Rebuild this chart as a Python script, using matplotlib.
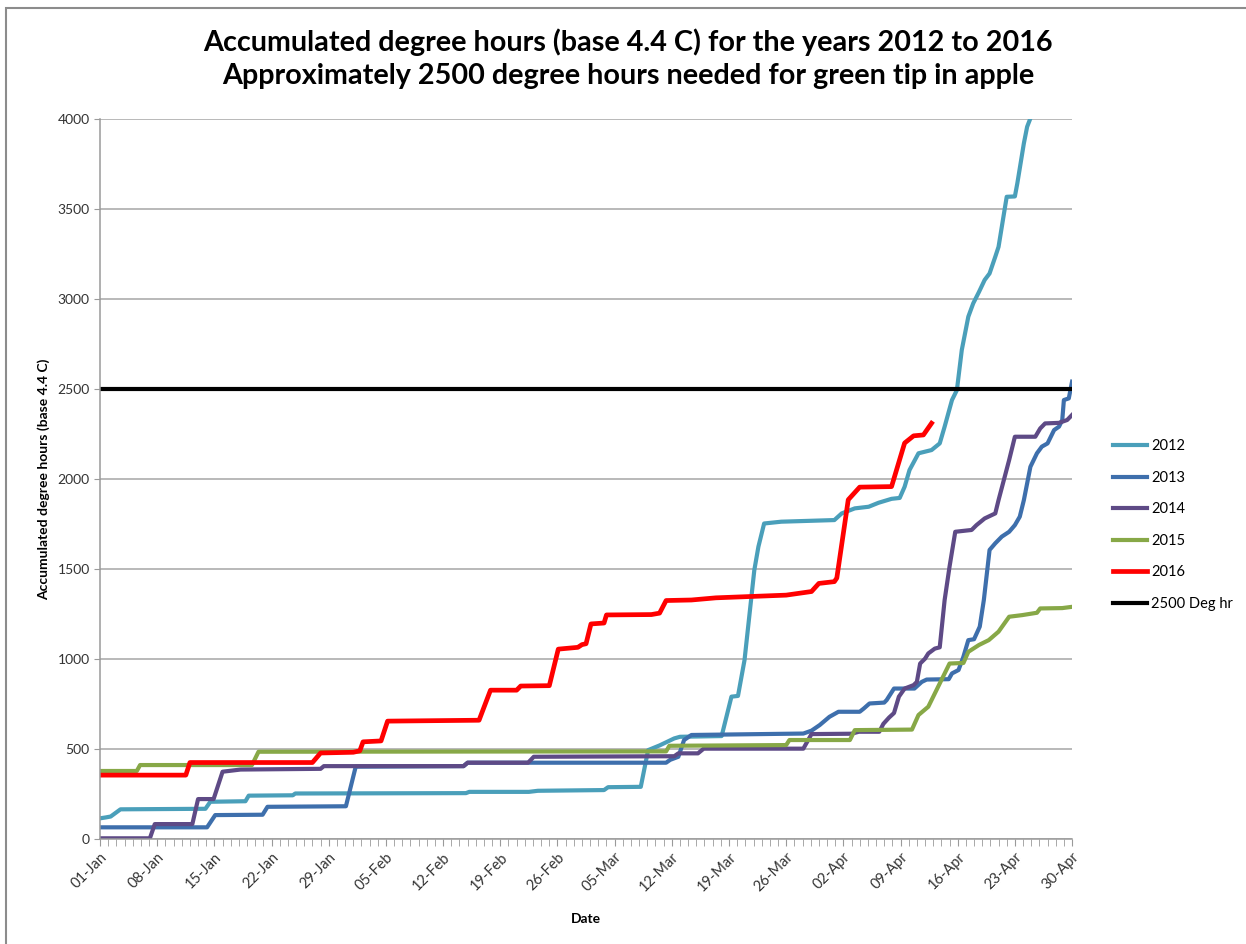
import matplotlib
matplotlib.use("Agg")
import matplotlib.pyplot as plt
from matplotlib.patches import Rectangle

plt.rcParams['font.family'] = ['Lato', 'DejaVu Sans']

# days counted from 01-Jan
days_2012 = [0, 0.7, 1.3, 2.5, 12.9, 13.5, 17.8, 18.2, 23.6, 23.9,
             44.8, 45.2, 52.5, 53.6, 61.7, 62.2, 66.2, 67.1, 68.5, 70.3,
             71, 76.1, 77.3, 78.1, 78.9, 80.1, 80.6, 81.3, 83.4, 89.9,
             90.8, 92.4, 94.1, 95.3, 96.9, 97.9, 98.5, 99.1, 100.2, 101.8,
             102.8, 103.4, 104.3, 104.9, 105.5, 106.3, 106.9, 107.6, 108.3, 108.9,
             109.6, 110, 110.8, 111, 112, 112.3, 113.1, 113.5, 113.9]
vals_2012 = [115, 120, 125, 165, 168, 207, 210, 241, 243, 253,
             255, 262, 262, 268, 272, 288, 290, 494, 520, 559,
             568, 572, 791, 795, 994, 1494, 1624, 1753, 1763, 1772,
             1809, 1837, 1846, 1868, 1890, 1895, 1957, 2050, 2143, 2161,
             2198, 2291, 2439, 2494, 2717, 2902, 2976, 3039, 3106, 3142,
             3235, 3290, 3513, 3568, 3570, 3643, 3865, 3957, 4004]

days_2013 = [0, 13.1, 14.1, 19.9, 20.5, 30.1, 31.3, 44.5, 45, 69.3,
             69.8, 70.8, 71.5, 72.4, 86.1, 87.1, 88.1, 89.3, 90.4, 93,
             93.5, 94.2, 96, 96.3, 97.2, 99.7, 100.6, 101.2, 103.9, 104.3,
             105.1, 105.7, 106.3, 107, 107.7, 108.2, 108.9, 109.6, 110.4, 111.3,
             112, 112.6, 113.1, 113.9, 114.7, 115.3, 116, 116.8, 117.4, 117.8,
             118, 118.6, 119]
vals_2013 = [65, 65, 133, 135, 179, 182, 402, 405, 424, 424,
             440, 457, 550, 578, 586, 602, 633, 679, 707, 707,
             725, 753, 758, 772, 836, 836, 873, 886, 888, 920,
             939, 1013, 1105, 1110, 1180, 1328, 1606, 1643, 1680, 1707,
             1744, 1791, 1883, 2068, 2143, 2180, 2198, 2272, 2291, 2328,
             2439, 2448, 2541]

days_2014 = [0, 6.1, 6.7, 11.3, 12, 13.9, 15, 17.2, 27, 27.4,
             44.5, 45, 52.4, 53.1, 70.3, 70.8, 73.2, 73.9, 86.1, 87.1,
             92, 92.9, 95.4, 95.9, 96.6, 97.2, 97.8, 98.5, 99.6, 100,
             100.4, 101, 101.4, 102.2, 102.8, 103.4, 104, 104.7, 106.7, 107.3,
             108.3, 109.6, 110, 111.3, 112, 114.5, 115.1, 115.7, 117.4, 118.4,
             119]
vals_2014 = [4, 4, 83, 83, 222, 222, 374, 386, 390, 405,
             405, 424, 424, 457, 460, 476, 476, 502, 502, 583,
             585, 596, 596, 640, 675, 700, 791, 836, 855, 873,
             975, 1002, 1031, 1058, 1065, 1328, 1513, 1707, 1717, 1744,
             1781, 1809, 1883, 2106, 2235, 2235, 2281, 2309, 2312, 2328,
             2356]

days_2015 = [0, 4.5, 4.9, 18.6, 19.4, 69.3, 69.7, 84, 84.4, 91.8,
             92.4, 99.4, 100.2, 101.4, 104, 105.7, 106.3, 107.6, 108.8, 110,
             111.3, 112.9, 114.7, 115.1, 117.8, 119]
vals_2015 = [378, 378, 411, 411, 485, 487, 518, 522, 550, 550,
             605, 608, 689, 735, 975, 978, 1040, 1078, 1105, 1152,
             1235, 1244, 1257, 1281, 1283, 1290]

days_2016 = [0, 10.5, 11, 26, 27, 31, 31.8, 32.2, 34.4, 35.2,
             46.4, 47.8, 51, 51.5, 55, 56.1, 58.5, 59, 59.5, 60.1,
             61.7, 62, 67.5, 68.5, 69.3, 72.4, 75.4, 84, 87.1, 88,
             89.9, 90.2, 91.6, 93, 96.9, 98.5, 99.6, 100.8, 101.8]
vals_2016 = [355, 355, 425, 425, 478, 482, 490, 540, 545, 655,
             660, 827, 827, 850, 852, 1055, 1065, 1080, 1085, 1195,
             1200, 1245, 1247, 1255, 1325, 1328, 1340, 1355, 1375, 1420,
             1430, 1450, 1885, 1955, 1958, 2200, 2240, 2245, 2310]

threshold = 2500
last_day = 119

tick_labels = ['01-Jan', '08-Jan', '15-Jan', '22-Jan', '29-Jan', '05-Feb',
               '12-Feb', '19-Feb', '26-Feb', '05-Mar', '12-Mar', '19-Mar',
               '26-Mar', '02-Apr', '09-Apr', '16-Apr', '23-Apr', '30-Apr']

fig = plt.figure(figsize=(12.46, 9.44), dpi=100)
ax = fig.add_axes([0.0803, 0.1112, 0.7801, 0.7627])

lw = 3.0
ax.plot(days_2012, vals_2012, color='#4A9FBA', lw=lw, label='2012')
ax.plot(days_2013, vals_2013, color='#3E6FAC', lw=lw, label='2013')
ax.plot(days_2014, vals_2014, color='#5E4A86', lw=lw, label='2014')
ax.plot(days_2015, vals_2015, color='#87A847', lw=lw, label='2015')
ax.plot(days_2016, vals_2016, color='#FF0000', lw=3.4, label='2016')
ax.plot([0, last_day], [threshold, threshold], color='black', lw=3.0, label='2500 Deg hr')

ax.set_xlim(0, last_day)
ax.set_ylim(0, 4000)
ax.set_yticks(range(0, 4001, 500))
ax.set_xticks(range(0, last_day + 1, 7))
ax.set_xticks(range(0, last_day + 1), minor=True)
ax.set_xticklabels(tick_labels, rotation=45, ha='right', rotation_mode='anchor',
                   fontsize=10.5, color='#333333')
ax.tick_params(axis='y', labelsize=10, colors='#333333', length=4, color='#9A9A9A')
ax.tick_params(axis='x', which='both', length=5, color='#9A9A9A', direction='out')
ax.tick_params(axis='x', which='major', pad=3)

ax.grid(axis='y', color='#A6A6A6', lw=1.1)
ax.set_axisbelow(True)
for s in ['top', 'right']:
    ax.spines[s].set_visible(False)
for s in ['left', 'bottom']:
    ax.spines[s].set_color('#9A9A9A')
    ax.spines[s].set_linewidth(1.1)

ax.set_xlabel('Date', fontsize=10, fontweight='bold', labelpad=13)
ax.set_ylabel('Accumulated degree hours (base 4.4 C)', fontsize=10,
              fontweight='bold', labelpad=5)

fig.text(0.504, 0.955, 'Accumulated degree hours (base 4.4 C) for the years 2012 to 2016',
         ha='center', va='center', fontsize=20.7, fontweight='bold')
fig.text(0.504, 0.920, 'Approximately 2500 degree hours needed for green tip in apple',
         ha='center', va='center', fontsize=20.7, fontweight='bold')

leg = fig.legend(loc='center left', bbox_to_anchor=(0.883, 0.444), frameon=False,
                 fontsize=10.5, handlelength=2.3, handletextpad=0.3, labelspacing=1.2)

fig.patches.append(Rectangle((6 / 1246, -0.1), 1.2, 1.1 - 8 / 944, transform=fig.transFigure,
                             fill=False, edgecolor='#8C8C8C', lw=1.5))

fig.savefig('out.png', dpi=100)
